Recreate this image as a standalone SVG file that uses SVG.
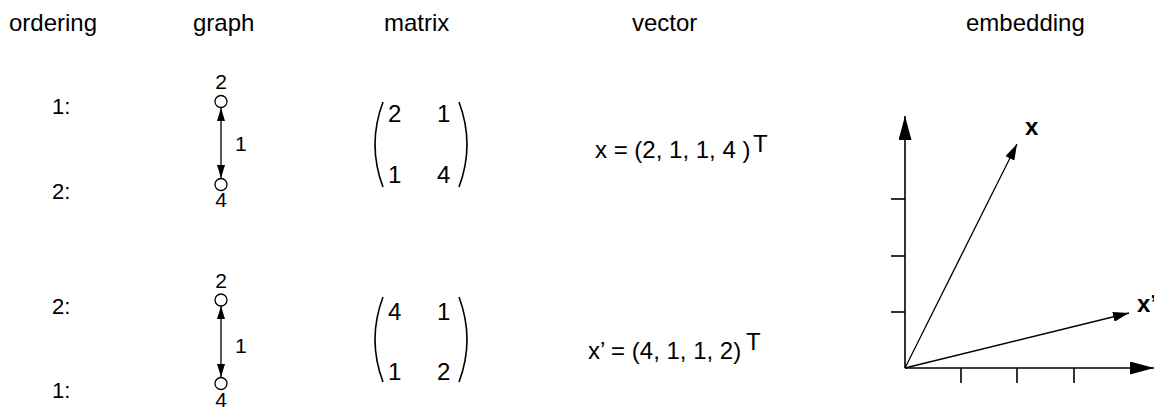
<svg xmlns="http://www.w3.org/2000/svg" width="1154" height="410" viewBox="0 0 1154 410">
<style>
text{font-family:"Liberation Sans",Arial,sans-serif;fill:#000}
.h{font-size:24px}
.lab{font-size:22px}
.nl{font-size:21px}
.el{font-size:21px}
.m{font-size:24px}
.v{font-size:24px}
.sup{font-size:24px}
.b{font-size:24px;font-weight:bold}
.node{fill:#fff;stroke:#000;stroke-width:1.3}
.ln{stroke:#000;stroke-width:1.3;fill:none}
.ax{stroke:#000;stroke-width:1.6;fill:none}
.par{stroke:#000;stroke-width:1.6;fill:none}
</style>
<defs>
<marker id="ga" viewBox="0 0 13 8" refX="13" refY="4" markerWidth="13" markerHeight="8" markerUnits="userSpaceOnUse" orient="auto-start-reverse"><path d="M0,0 L13,4 L0,8 z" fill="#000"/></marker>
<marker id="va" viewBox="0 0 16 10" refX="16" refY="5" markerWidth="16" markerHeight="10" markerUnits="userSpaceOnUse" orient="auto"><path d="M0,0 L16,5 L0,10 z" fill="#000"/></marker>
<marker id="aa" viewBox="0 0 24 13" refX="24" refY="6.5" markerWidth="24" markerHeight="13" markerUnits="userSpaceOnUse" orient="auto"><path d="M0,0 L24,6.5 L0,13 z" fill="#000"/></marker>
</defs>
<rect width="1154" height="410" fill="#fff"/>
<g id="headers">
<text class="h" x="9" y="31">ordering</text>
<text class="h" x="193" y="31">graph</text>
<text class="h" x="384" y="31">matrix</text>
<text class="h" x="632" y="31">vector</text>
<text class="h" x="966" y="31">embedding</text>
</g>
<g id="ordering">
<text class="lab" x="52" y="114">1:</text>
<text class="lab" x="52" y="199">2:</text>
<text class="lab" x="52" y="314">2:</text>
<text class="lab" x="52" y="398">1:</text>
</g>
<g id="connectors">
<line class="ln" x1="221" y1="108" x2="221" y2="178" marker-start="url(#ga)" marker-end="url(#ga)"/>
<line class="ln" x1="221" y1="306" x2="221" y2="377" marker-start="url(#ga)" marker-end="url(#ga)"/>
<text class="el" x="235" y="151">1</text>
<text class="el" x="235" y="353">1</text>
</g>
<g id="node-g1-2"><circle class="node" cx="221" cy="101.5" r="6"/><text class="nl" x="221" y="89" text-anchor="middle">2</text></g>
<g id="node-g1-4"><circle class="node" cx="221" cy="184.5" r="6"/><text class="nl" x="221" y="207" text-anchor="middle">4</text></g>
<g id="node-g2-2"><circle class="node" cx="221" cy="300" r="6"/><text class="nl" x="221" y="288" text-anchor="middle">2</text></g>
<g id="node-g2-4"><circle class="node" cx="221" cy="383.5" r="6"/><text class="nl" x="221" y="407" text-anchor="middle">4</text></g>
<g id="matrix1">
<path class="par" d="M383,102 Q367,144.5 383,187"/>
<path class="par" d="M459,102 Q475,144.5 459,187"/>
<text class="m" x="388" y="122">2</text>
<text class="m" x="437" y="122">1</text>
<text class="m" x="388" y="183">1</text>
<text class="m" x="437" y="183">4</text>
</g>
<g id="matrix2">
<path class="par" d="M383,297 Q367,339.5 383,382"/>
<path class="par" d="M459,297 Q475,339.5 459,382"/>
<text class="m" x="388" y="320">4</text>
<text class="m" x="437" y="320">1</text>
<text class="m" x="388" y="380">1</text>
<text class="m" x="437" y="380">2</text>
</g>
<g id="vector1">
<text class="v" x="595" y="158">x = (2, 1, 1, 4 )</text>
<text class="sup" x="753" y="152">T</text>
</g>
<g id="vector2">
<text class="v" x="588" y="359">x’ = (4, 1, 1, 2)</text>
<text class="sup" x="746" y="350">T</text>
</g>
<g id="embedding">
<line class="ax" x1="905" y1="368" x2="905" y2="116" marker-end="url(#aa)"/>
<line class="ax" x1="905" y1="368" x2="1154" y2="368" marker-end="url(#aa)"/>
<line class="ax" x1="891" y1="199" x2="905" y2="199"/>
<line class="ax" x1="891" y1="256" x2="905" y2="256"/>
<line class="ax" x1="891" y1="312" x2="905" y2="312"/>
<line class="ax" x1="961" y1="368" x2="961" y2="383"/>
<line class="ax" x1="1017" y1="368" x2="1017" y2="383"/>
<line class="ax" x1="1074" y1="368" x2="1074" y2="383"/>
<line class="ln" x1="905" y1="368" x2="1017" y2="144" marker-end="url(#va)"/>
<line class="ln" x1="905" y1="368" x2="1129" y2="313" marker-end="url(#va)"/>
<text class="b" x="1025" y="135">x</text>
<text class="b" x="1137" y="312">x’</text>
</g>
</svg>
